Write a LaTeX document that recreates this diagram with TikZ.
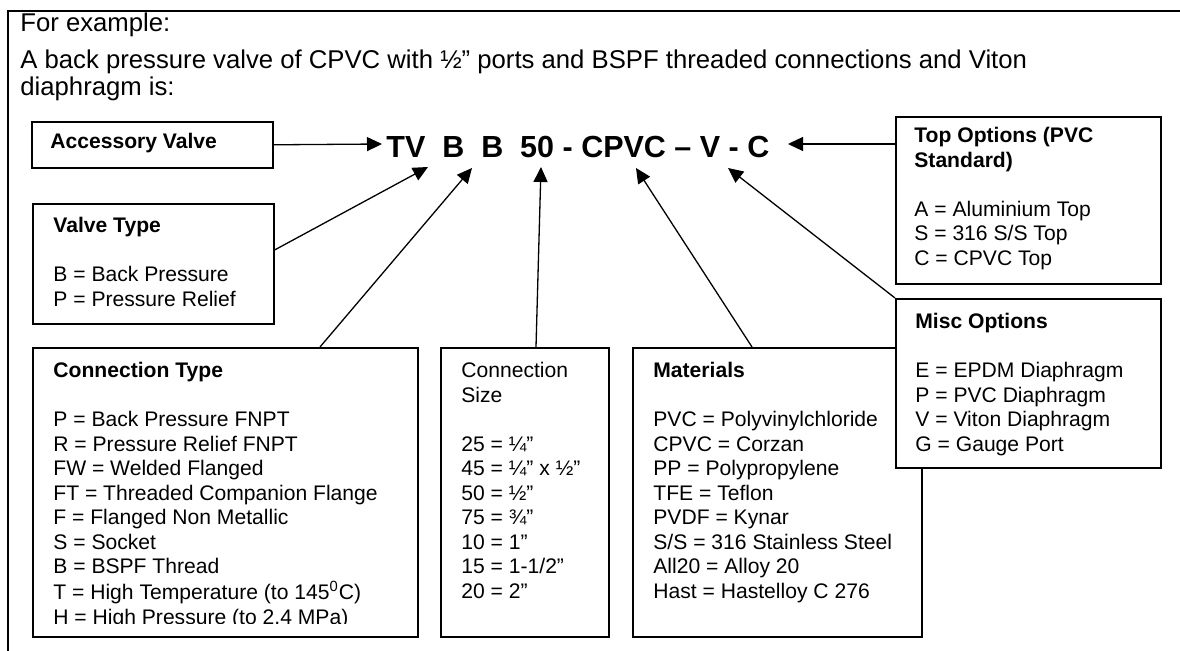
\documentclass[tikz,border=0pt]{standalone}
\usepackage{fontspec}
\setmainfont{Liberation Sans}
\usetikzlibrary{arrows.meta}

% lines of a key, baseline on the first line
\newcommand{\keylines}[1]{\begin{tabular}[t]{@{}l@{}}#1\end{tabular}}

\tikzset{
    % Box styles
    keybox/.style={
        rectangle,
        draw=black,
        fill=white,
        line width=0.8pt,
        anchor=north west,
        inner sep=0pt
    },
    keytext/.style={
        anchor=base west,
        inner sep=0pt,
        font=\fontsize{10.55}{12.25}\selectfont
    },
    plaintext/.style={
        anchor=base west,
        inner sep=0pt,
        font=\fontsize{12.85}{13}\selectfont
    },
    codetext/.style={
        anchor=base west,
        inner sep=0pt,
        font=\fontsize{15.25}{18}\selectfont\bfseries
    },
    % Arrow styles
    pointer/.style={
        -{Triangle[length=7.5pt,width=7pt]},
        line width=0.65pt,
        black
    },
    frameline/.style={
        draw=black,
        line width=1pt
    }
}

\begin{document}
\begin{tikzpicture}[x=0.5pt, y=-0.5pt]
            \useasboundingbox (0,0) rectangle (1180,651);

            % Frame
            \draw[frameline] (8,651) -- (8,11) -- (1180,11);

            % Intro text
            \node[plaintext] (intro) at (20,32) {For example:};
            \node[plaintext] (example) at (20,69) {\keylines{A back pressure valve of CPVC with ½” ports and BSPF threaded connections and Viton\\diaphragm is:}};

            % Code
            \node[codetext] (code) at (386,158) {TV~~B~~B~~50 - CPVC – V - C};

            % Boxes
            \node[keybox,minimum width=120.5pt,minimum height=23pt] (accbox) at (31,121) {};
            \node[keytext] (acctext) at (50,149) {\textbf{Accessory Valve}};

            \node[keybox,minimum width=120.5pt,minimum height=60pt] (valvebox) at (32,203) {};
            \node[keytext] (valvetext) at (53,233) {\keylines{\textbf{Valve Type}\\[12.25pt]B = Back Pressure\\P = Pressure Relief}};

            \node[keybox,minimum width=192.5pt,minimum height=144.5pt] (ctypebox) at (32,347) {};
            \begin{scope}
                \clip (32,347) rectangle (417,624);
                \node[keytext] (ctypetext) at (53,378) {\keylines{\textbf{Connection Type}\\[12.25pt]P = Back Pressure FNPT\\R = Pressure Relief FNPT\\FW = Welded Flanged\\FT = Threaded Companion Flange\\F = Flanged Non Metallic\\S = Socket\\B = BSPF Thread\\T = High Temperature (to 145\textsuperscript{0}C)\\H = High Pressure (to 2.4 MPa)}};
            \end{scope}

            \node[keybox,minimum width=84pt,minimum height=144.5pt] (sizebox) at (440,347) {};
            \node[keytext] (sizetext) at (461,378) {\keylines{Connection\\Size\\[12.25pt]25 = ¼”\\45 = ¼” x ½”\\50 = ½”\\75 = ¾”\\10 = 1”\\15 = 1-1/2”\\20 = 2”}};

            \node[keybox,minimum width=144.5pt,minimum height=144.5pt] (matbox) at (632,347) {};
            \node[keytext] (mattext) at (653,378) {\keylines{\textbf{Materials}\\[12.25pt]PVC = Polyvinylchloride\\CPVC = Corzan\\PP = Polypropylene\\TFE = Teflon\\PVDF = Kynar\\S/S = 316 Stainless Steel\\All20 = Alloy 20\\Hast = Hastelloy C 276}};

            \node[keybox,minimum width=132.5pt,minimum height=83.5pt] (topbox) at (895,116) {};
            \node[keytext] (toptext) at (914,143) {\keylines{\textbf{Top Options (PVC}\\\textbf{Standard)}\\[12.25pt]A = Aluminium Top\\S = 316 S/S Top\\C = CPVC Top}};

            \node[keybox,minimum width=132.5pt,minimum height=84.5pt] (miscbox) at (895,298) {};
            \node[keytext] (misctext) at (915,329) {\keylines{\textbf{Misc Options}\\[12.25pt]E = EPDM Diaphragm\\P = PVC Diaphragm\\V = Viton Diaphragm\\G = Gauge Port}};

            % Arrow tips round the code
            \coordinate (tipacc) at (382,144);
            \coordinate (tiptv) at (428,167);
            \coordinate (tipconn) at (472,168);
            \coordinate (tipsize) at (541,167);
            \coordinate (tipmat) at (636,168);
            \coordinate (tipmisc) at (728,168);
            \coordinate (tiptop) at (788,144);

            % Arrows
            \draw[pointer] (accbox.east) -- (tipacc);
            \draw[pointer] ([yshift=-23.5pt]valvebox.north east) -- (tiptv);
            \draw[pointer] ([xshift=144pt]ctypebox.north west) -- (tipconn);
            \draw[pointer] ([xshift=48pt]sizebox.north west) -- (tipsize);
            \draw[pointer] ([xshift=60pt]matbox.north west) -- (tipmat);
            \draw[pointer] (miscbox.north west) -- (tipmisc);
            \draw[pointer] ([yshift=-14pt]topbox.north west) -- (tiptop);
        \end{tikzpicture}
\end{document}
